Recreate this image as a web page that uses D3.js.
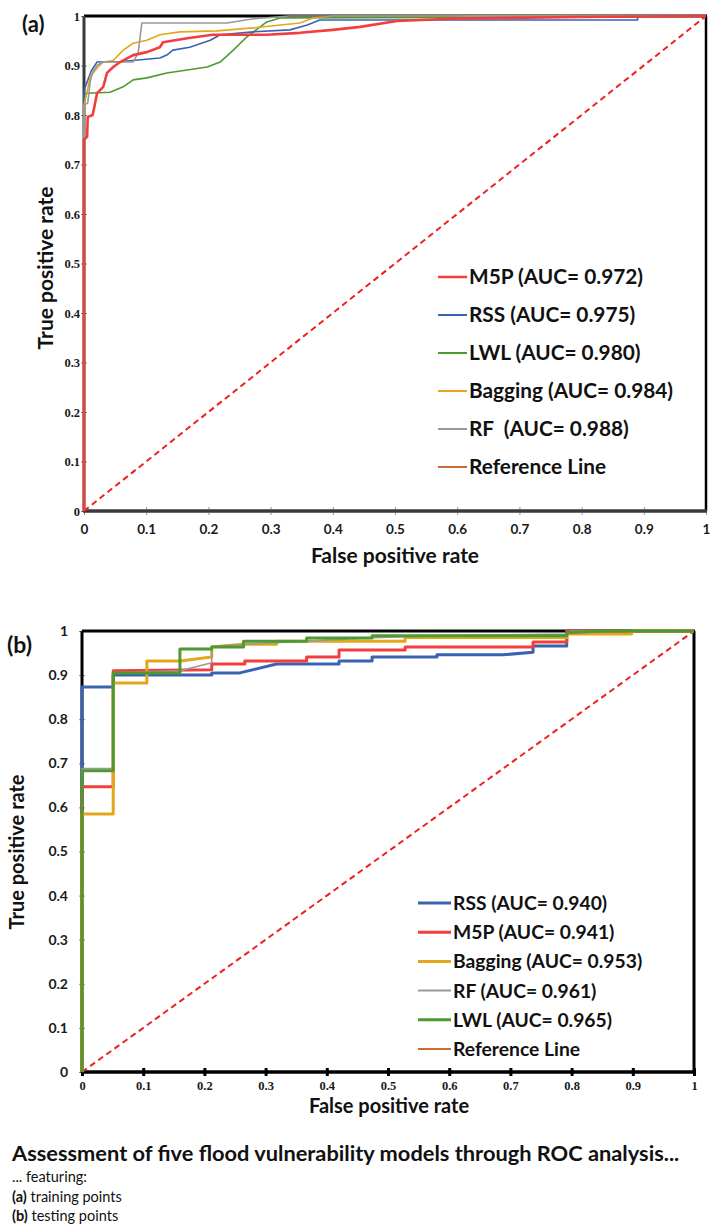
<!DOCTYPE html>
<html>
<head>
<meta charset="utf-8">
<script src="https://cdn.jsdelivr.net/npm/d3@7"></script>
<style>
  body { margin: 0; background: #fff; }
  text { font-family: Lato, "Open Sans", sans-serif; }
</style>
</head>
<body>
<div id="chart"></div>
<script>
// ROC points [false positive rate, true positive rate]
// (a) training points
var a_m5p = [[0,0],[0,0.75],[0.005,0.756],[0.006,0.796],[0.014,0.80],[0.021,0.844],[0.031,0.857],[0.037,0.885],[0.047,0.897],[0.058,0.907],[0.079,0.921],[0.101,0.927],[0.122,0.937],[0.127,0.947],[0.166,0.955],[0.207,0.962],[0.294,0.962],[0.347,0.966],[0.40,0.972],[0.444,0.978],[0.503,0.99],[0.6,0.995],[0.8,0.998],[1,1]];
var a_rss = [[0,0],[0,0.85],[0.006,0.87],[0.012,0.89],[0.021,0.907],[0.06,0.908],[0.122,0.915],[0.133,0.921],[0.143,0.931],[0.17,0.937],[0.203,0.951],[0.219,0.962],[0.272,0.968],[0.331,0.972],[0.359,0.982],[0.379,0.992],[0.89,0.992],[0.89,1],[1,1]];
var a_lwl = [[0,0],[0,0.84],[0.005,0.844],[0.042,0.846],[0.063,0.857],[0.079,0.871],[0.101,0.875],[0.133,0.885],[0.166,0.891],[0.198,0.897],[0.219,0.907],[0.24,0.931],[0.262,0.958],[0.283,0.978],[0.294,0.988],[0.315,0.996],[0.6,0.997],[0.62,1],[1,1]];
var a_bagging = [[0,0],[0,0.82],[0.002,0.83],[0.01,0.877],[0.021,0.895],[0.031,0.907],[0.047,0.91],[0.063,0.931],[0.079,0.945],[0.101,0.951],[0.122,0.962],[0.154,0.968],[0.214,0.970],[0.272,0.976],[0.347,0.986],[0.368,0.996],[0.4,1],[1,1]];
var a_rf = [[0,0],[0,0.82],[0.006,0.824],[0.01,0.867],[0.014,0.887],[0.021,0.90],[0.03,0.907],[0.079,0.907],[0.087,0.925],[0.093,0.986],[0.23,0.986],[0.27,0.994],[0.33,1],[1,1]];

// (b) testing points
var b_rss = [[0,0],[0,0.873],[0.051,0.873],[0.051,0.90],[0.212,0.90],[0.212,0.905],[0.258,0.905],[0.318,0.925],[0.42,0.925],[0.42,0.932],[0.474,0.932],[0.474,0.941],[0.58,0.941],[0.58,0.946],[0.688,0.946],[0.737,0.952],[0.737,0.966],[0.792,0.966],[0.792,1],[1,1]];
var b_m5p = [[0,0],[0,0.647],[0.051,0.647],[0.051,0.91],[0.212,0.912],[0.212,0.925],[0.266,0.925],[0.266,0.932],[0.367,0.932],[0.367,0.941],[0.42,0.941],[0.42,0.957],[0.528,0.957],[0.528,0.964],[0.737,0.964],[0.737,0.975],[0.792,0.975],[0.792,1],[1,1]];
var b_bagging = [[0,0],[0,0.585],[0.051,0.585],[0.051,0.882],[0.106,0.882],[0.106,0.932],[0.16,0.932],[0.212,0.941],[0.212,0.964],[0.264,0.97],[0.318,0.97],[0.318,0.977],[0.528,0.977],[0.528,0.985],[0.792,0.985],[0.792,0.993],[0.898,0.993],[0.898,1],[1,1]];
var b_rf = [[0,0],[0,0.688],[0.051,0.688],[0.051,0.905],[0.16,0.91],[0.212,0.928],[0.212,0.965],[0.264,0.97],[0.367,0.977],[0.474,0.985],[0.6,0.99],[0.792,0.993],[0.8,1],[1,1]];
var b_lwl = [[0,0],[0,0.683],[0.051,0.683],[0.051,0.905],[0.16,0.905],[0.16,0.959],[0.212,0.959],[0.212,0.964],[0.264,0.964],[0.264,0.977],[0.367,0.977],[0.367,0.984],[0.474,0.984],[0.474,0.989],[0.792,0.989],[0.792,0.996],[0.85,1],[1,1]];

var referenceLine = [[0,0],[1,1]];

var legendA = ["M5P (AUC= 0.972)", "RSS (AUC= 0.975)", "LWL (AUC= 0.980)", "Bagging (AUC= 0.984)", "RF  (AUC= 0.988)", "Reference Line"];
var legendB = ["RSS (AUC= 0.940)", "M5P (AUC= 0.941)", "Bagging (AUC= 0.953)", "RF (AUC= 0.961)", "LWL (AUC= 0.965)", "Reference Line"];

var tickValues = [0,0.1,0.2,0.3,0.4,0.5,0.6,0.7,0.8,0.9,1];

var captionTitle = "Assessment of five flood vulnerability models through ROC analysis...";
var captionLines = [["", "... featuring:"], ["(a)", " training points"], ["(b)", " testing points"]];

var colors = {
    m5p: "#f43d3d",
    rss: "#3a62b2",
    lwl: "#4f9a2f",
    bagging: "#e3a71c",
    rf: "#999999",
    ref: "#cc6a34"
};

var svg = d3.select("#chart")
            .append("svg")
            .attr("width", 720)
            .attr("height", 1230)
            .style("background", "#fff");

function drawPanel(p) {
    var x = d3.scaleLinear().domain([0, 1]).range([p.left, p.right]);
    var y = d3.scaleLinear().domain([0, 1]).range([p.bottom, p.top]);
    var g = svg.append("g");

    var fmt = function(d) { return d === 0 || d === 1 ? String(d) : d.toFixed(1); };

    // y axis
    var yAxis = g.append("g")
        .attr("transform", "translate(" + p.left + ",0)")
        .call(d3.axisLeft(y).tickValues(tickValues).tickFormat(fmt).tickSize(p.yTickSize).tickPadding(p.yPad));
    yAxis.select(".domain").remove();
    yAxis.selectAll(".tick line").attr("stroke", "#888").attr("x2", p.yTickSize).attr("x1", -p.yTickSize);
    yAxis.selectAll(".tick text")
        .attr("fill", "#1a1a1a")
        .style("font-family", p.yFont)
        .style("font-weight", "bold")
        .style("font-size", p.yFontSize + "px");

    // x axis
    var xAxis = g.append("g")
        .attr("transform", "translate(0," + p.bottom + ")")
        .call(d3.axisBottom(x).tickValues(tickValues).tickFormat(fmt).tickSize(p.xTickSize).tickPadding(p.xPad));
    xAxis.select(".domain").remove();
    xAxis.selectAll(".tick line")
        .attr("stroke", p.xTickColor)
        .attr("stroke-width", p.xTickWidth)
        .attr("y1", -p.xTickSize);
    xAxis.selectAll(".tick text")
        .attr("fill", "#1a1a1a")
        .style("font-family", p.xFont)
        .style("font-weight", "bold")
        .style("font-size", p.xFontSize + "px");

    // frame
    g.append("line").attr("x1", p.left).attr("x2", p.right + 1).attr("y1", p.top).attr("y2", p.top)
        .attr("stroke", "#000").attr("stroke-width", 3);
    g.append("line").attr("x1", p.right).attr("x2", p.right).attr("y1", p.top).attr("y2", p.bottom)
        .attr("stroke", "#000").attr("stroke-width", p.rightWidth);
    g.append("line").attr("x1", p.left).attr("x2", p.left).attr("y1", p.top).attr("y2", p.bottom + 1)
        .attr("stroke", p.axisColor).attr("stroke-width", 3);
    g.append("line").attr("x1", p.left - 1).attr("x2", p.right + 1).attr("y1", p.bottom).attr("y2", p.bottom)
        .attr("stroke", p.axisColor).attr("stroke-width", 3.5);

    var line = d3.line().x(function(d) { return x(d[0]); }).y(function(d) { return y(d[1]); });

    // reference diagonal
    g.append("path")
        .datum(referenceLine)
        .attr("d", line)
        .attr("fill", "none")
        .attr("stroke", "#ee2020")
        .attr("stroke-width", 2)
        .attr("stroke-dasharray", "6,4");

    // ROC curves
    p.series.forEach(function(s) {
        g.append("path")
            .datum(s.data)
            .attr("d", line)
            .attr("fill", "none")
            .attr("stroke", s.color)
            .attr("stroke-width", s.width)
            .attr("stroke-linejoin", "round");
    });

    // legend
    var lg = g.append("g");
    p.legend.forEach(function(label, i) {
        var yy = p.legendY + i * p.legendStep;
        lg.append("line")
            .attr("x1", p.legendX).attr("x2", p.legendX + p.legendLine)
            .attr("y1", yy).attr("y2", yy)
            .attr("stroke", p.legendColors[i])
            .attr("stroke-width", p.legendWidths[i]);
        lg.append("text")
            .attr("x", p.legendX + p.legendLine + 2)
            .attr("y", yy)
            .attr("dy", "0.36em")
            .attr("fill", "#111")
            .style("font-weight", "bold")
            .style("font-size", p.legendFontSize + "px")
            .style("white-space", "pre")
            .text(label);
    });

    // axis titles and panel label
    g.append("text")
        .attr("transform", "translate(" + p.yTitleX + "," + p.yTitleY + ") rotate(-90)")
        .attr("text-anchor", "middle")
        .attr("fill", "#111")
        .style("font-weight", "bold")
        .style("font-size", p.titleSize + "px")
        .text("True positive rate");
    g.append("text")
        .attr("x", p.xTitleX)
        .attr("y", p.xTitleY)
        .attr("text-anchor", "middle")
        .attr("fill", "#111")
        .style("font-weight", "bold")
        .style("font-size", p.titleSize + "px")
        .text("False positive rate");
    g.append("text")
        .attr("x", p.labelX)
        .attr("y", p.labelY)
        .attr("fill", "#111")
        .style("font-weight", "bold")
        .style("font-size", p.labelSize + "px")
        .text(p.label);
}

drawPanel({
    label: "(a)", labelX: 22, labelY: 32, labelSize: 22,
    left: 84, right: 706, top: 16, bottom: 511,
    rightWidth: 2.5, axisColor: "#3a3a3a",
    yTickSize: 3, yPad: 1, yFont: "'Liberation Serif', serif", yFontSize: 12.5,
    xTickSize: 4, xPad: 9, xTickColor: "#999", xTickWidth: 1, xFont: "Lato, sans-serif", xFontSize: 13.5,
    yTitleX: 53, yTitleY: 268, xTitleX: 395, xTitleY: 563, titleSize: 21,
    legend: legendA,
    legendX: 438, legendY: 277, legendStep: 38, legendLine: 29, legendFontSize: 20.8,
    legendColors: [colors.m5p, colors.rss, colors.lwl, colors.bagging, colors.rf, colors.ref],
    legendWidths: [2.5, 2, 2, 2, 2, 2],
    series: [
        { data: a_lwl, color: colors.lwl, width: 1.6 },
        { data: a_rss, color: colors.rss, width: 1.6 },
        { data: a_bagging, color: colors.bagging, width: 1.6 },
        { data: a_rf, color: colors.rf, width: 1.6 },
        { data: a_m5p, color: colors.m5p, width: 2.6 }
    ]
});

drawPanel({
    label: "(b)", labelX: 7, labelY: 653, labelSize: 23,
    left: 82, right: 694, top: 631, bottom: 1072,
    rightWidth: 3, axisColor: "#000",
    yTickSize: 3, yPad: 11, yFont: "Lato, sans-serif", yFontSize: 14,
    xTickSize: 4, xPad: 5, xTickColor: "#000", xTickWidth: 3, xFont: "'Liberation Serif', serif", xFontSize: 12.5,
    yTitleX: 24, yTitleY: 852, xTitleX: 389, xTitleY: 1113, titleSize: 20,
    legend: legendB,
    legendX: 418, legendY: 903, legendStep: 29.2, legendLine: 33, legendFontSize: 19.3,
    legendColors: [colors.rss, colors.m5p, colors.bagging, colors.rf, colors.lwl, colors.ref],
    legendWidths: [3, 3, 3, 2, 3, 2],
    series: [
        { data: b_rss, color: colors.rss, width: 3 },
        { data: b_m5p, color: colors.m5p, width: 3 },
        { data: b_bagging, color: colors.bagging, width: 3 },
        { data: b_rf, color: colors.rf, width: 1.6 },
        { data: b_lwl, color: colors.lwl, width: 3 }
    ]
});

// caption
svg.append("text")
    .attr("x", 12)
    .attr("y", 1161)
    .attr("fill", "#111")
    .style("font-weight", "bold")
    .style("font-size", "21.8px")
    .text(captionTitle);

captionLines.forEach(function(parts, i) {
    var t = svg.append("text")
        .attr("x", 12)
        .attr("y", 1182 + i * 19.5)
        .attr("fill", "#111")
        .style("font-size", "14.5px");
    if (parts[0]) t.append("tspan").style("font-weight", "bold").text(parts[0]);
    t.append("tspan").text(parts[1]);
});
</script>
</body>
</html>
